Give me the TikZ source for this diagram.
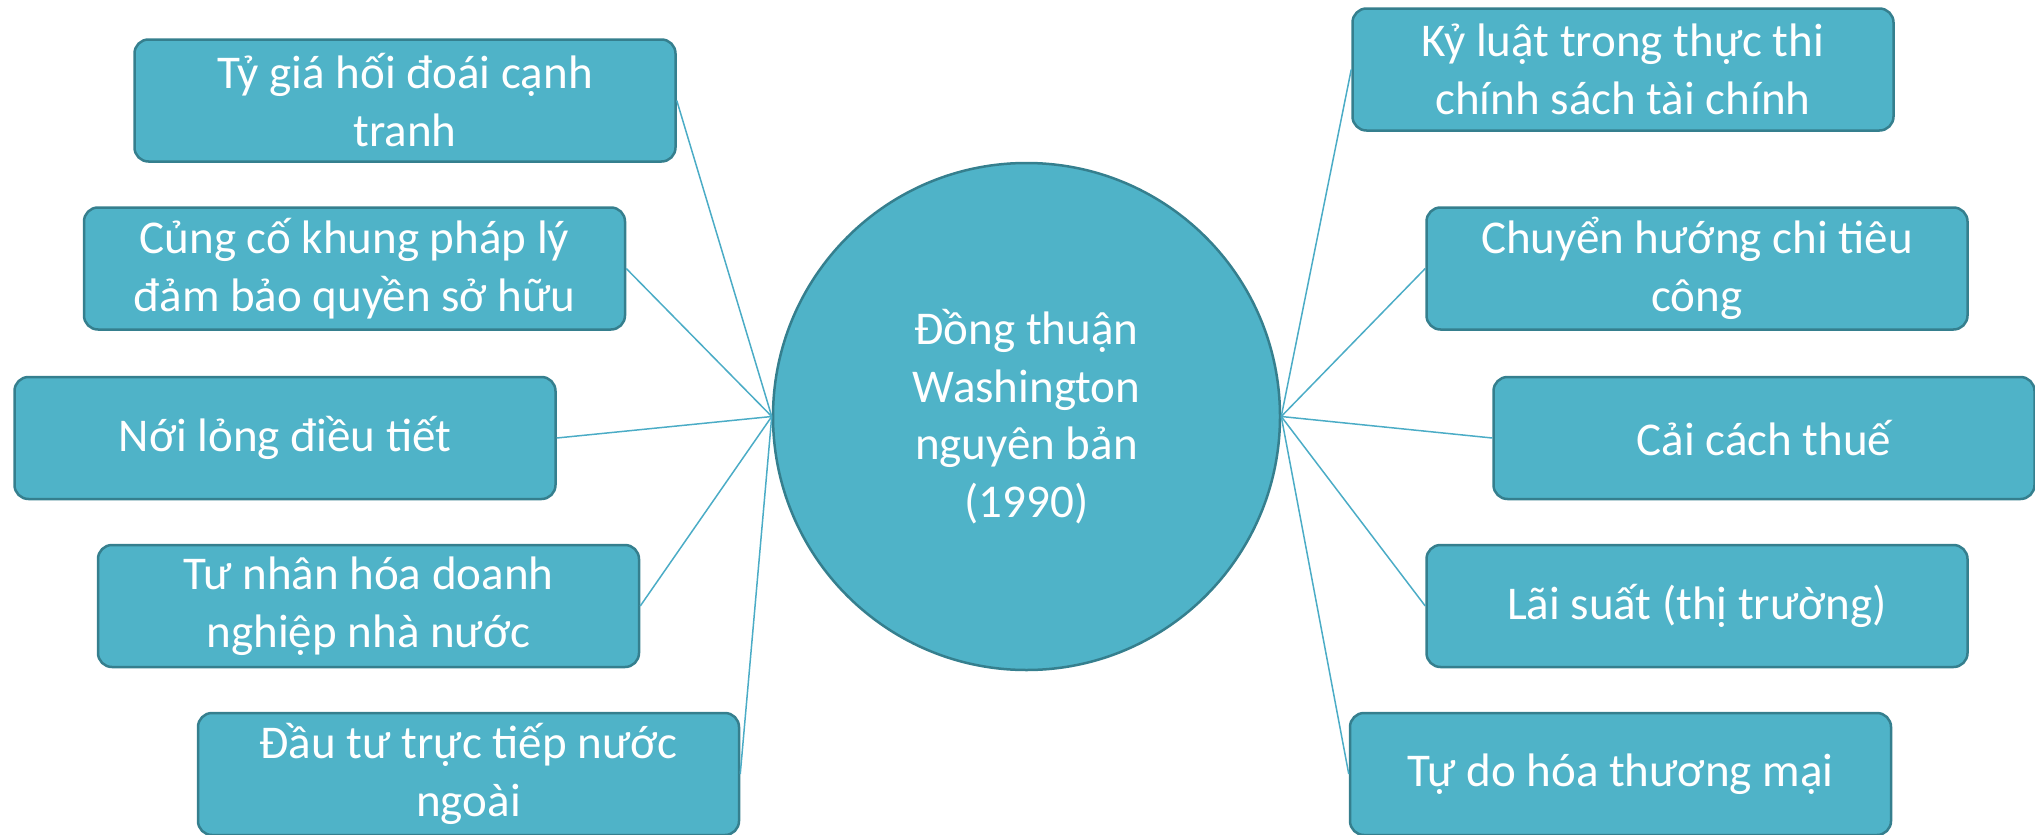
\documentclass[tikz,border=0pt]{standalone}
\usepackage{fontspec}
\setmainfont{Carlito}
\definecolor{boxfill}{HTML}{4FB3C8}
\definecolor{boxline}{HTML}{357F8E}
\definecolor{linkcol}{HTML}{4BACC6}
\begin{document}
\begin{tikzpicture}[x=1pt,y=-1pt,
  item/.style={draw=boxline, line width=2.5pt, fill=boxfill, rounded corners=14pt,
    minimum width=541pt, minimum height=122pt, text=white,
    font=\fontsize{47}{58}\selectfont, align=center, inner sep=0pt},
  hub/.style={circle, draw=boxline, line width=2.5pt, fill=boxfill,
    minimum size=507pt, text=white, font=\fontsize{47}{57.5}\selectfont,
    align=center, inner sep=0pt},
  conn/.style={draw=linkcol, line width=1.5pt}]
\useasboundingbox (0,0) rectangle (2035,835);

\node[hub] (hub) at (1026.5,416.5) {Đồng thuận\\Washington\\nguyên bản\\(1990)};

\node[item] (b1) at (405,100.5) {Tỷ giá hối đoái cạnh\\tranh};
\node[item] (b2) at (354.5,268.5) {Củng cố khung pháp lý\\đảm bảo quyền sở hữu};
\node[item] (b3) at (285,438) {Nới lỏng điều tiết};
\node[item] (b4) at (368.5,606) {Tư nhân hóa doanh\\nghiệp nhà nước};
\node[item] (b5) at (468.5,774) {Đầu tư trực tiếp nước\\ngoài};

\node[item] (r1) at (1623,69.5) {Kỷ luật trong thực thi\\chính sách tài chính};
\node[item] (r2) at (1697,268.5) {Chuyển hướng chi tiêu\\công};
\node[item] (r3) at (1764,438) {Cải cách thuế};
\node[item] (r4) at (1697,606) {Lãi suất (thị trường)};
\node[item] (r5) at (1620.5,774) {Tự do hóa thương mại};

\foreach \n in {b1,b2,b3,b4,b5}{\draw[conn] (hub.west) -- (\n.east);}
\foreach \n in {r1,r2,r3,r4,r5}{\draw[conn] (hub.east) -- (\n.west);}
\end{tikzpicture}
\end{document}
